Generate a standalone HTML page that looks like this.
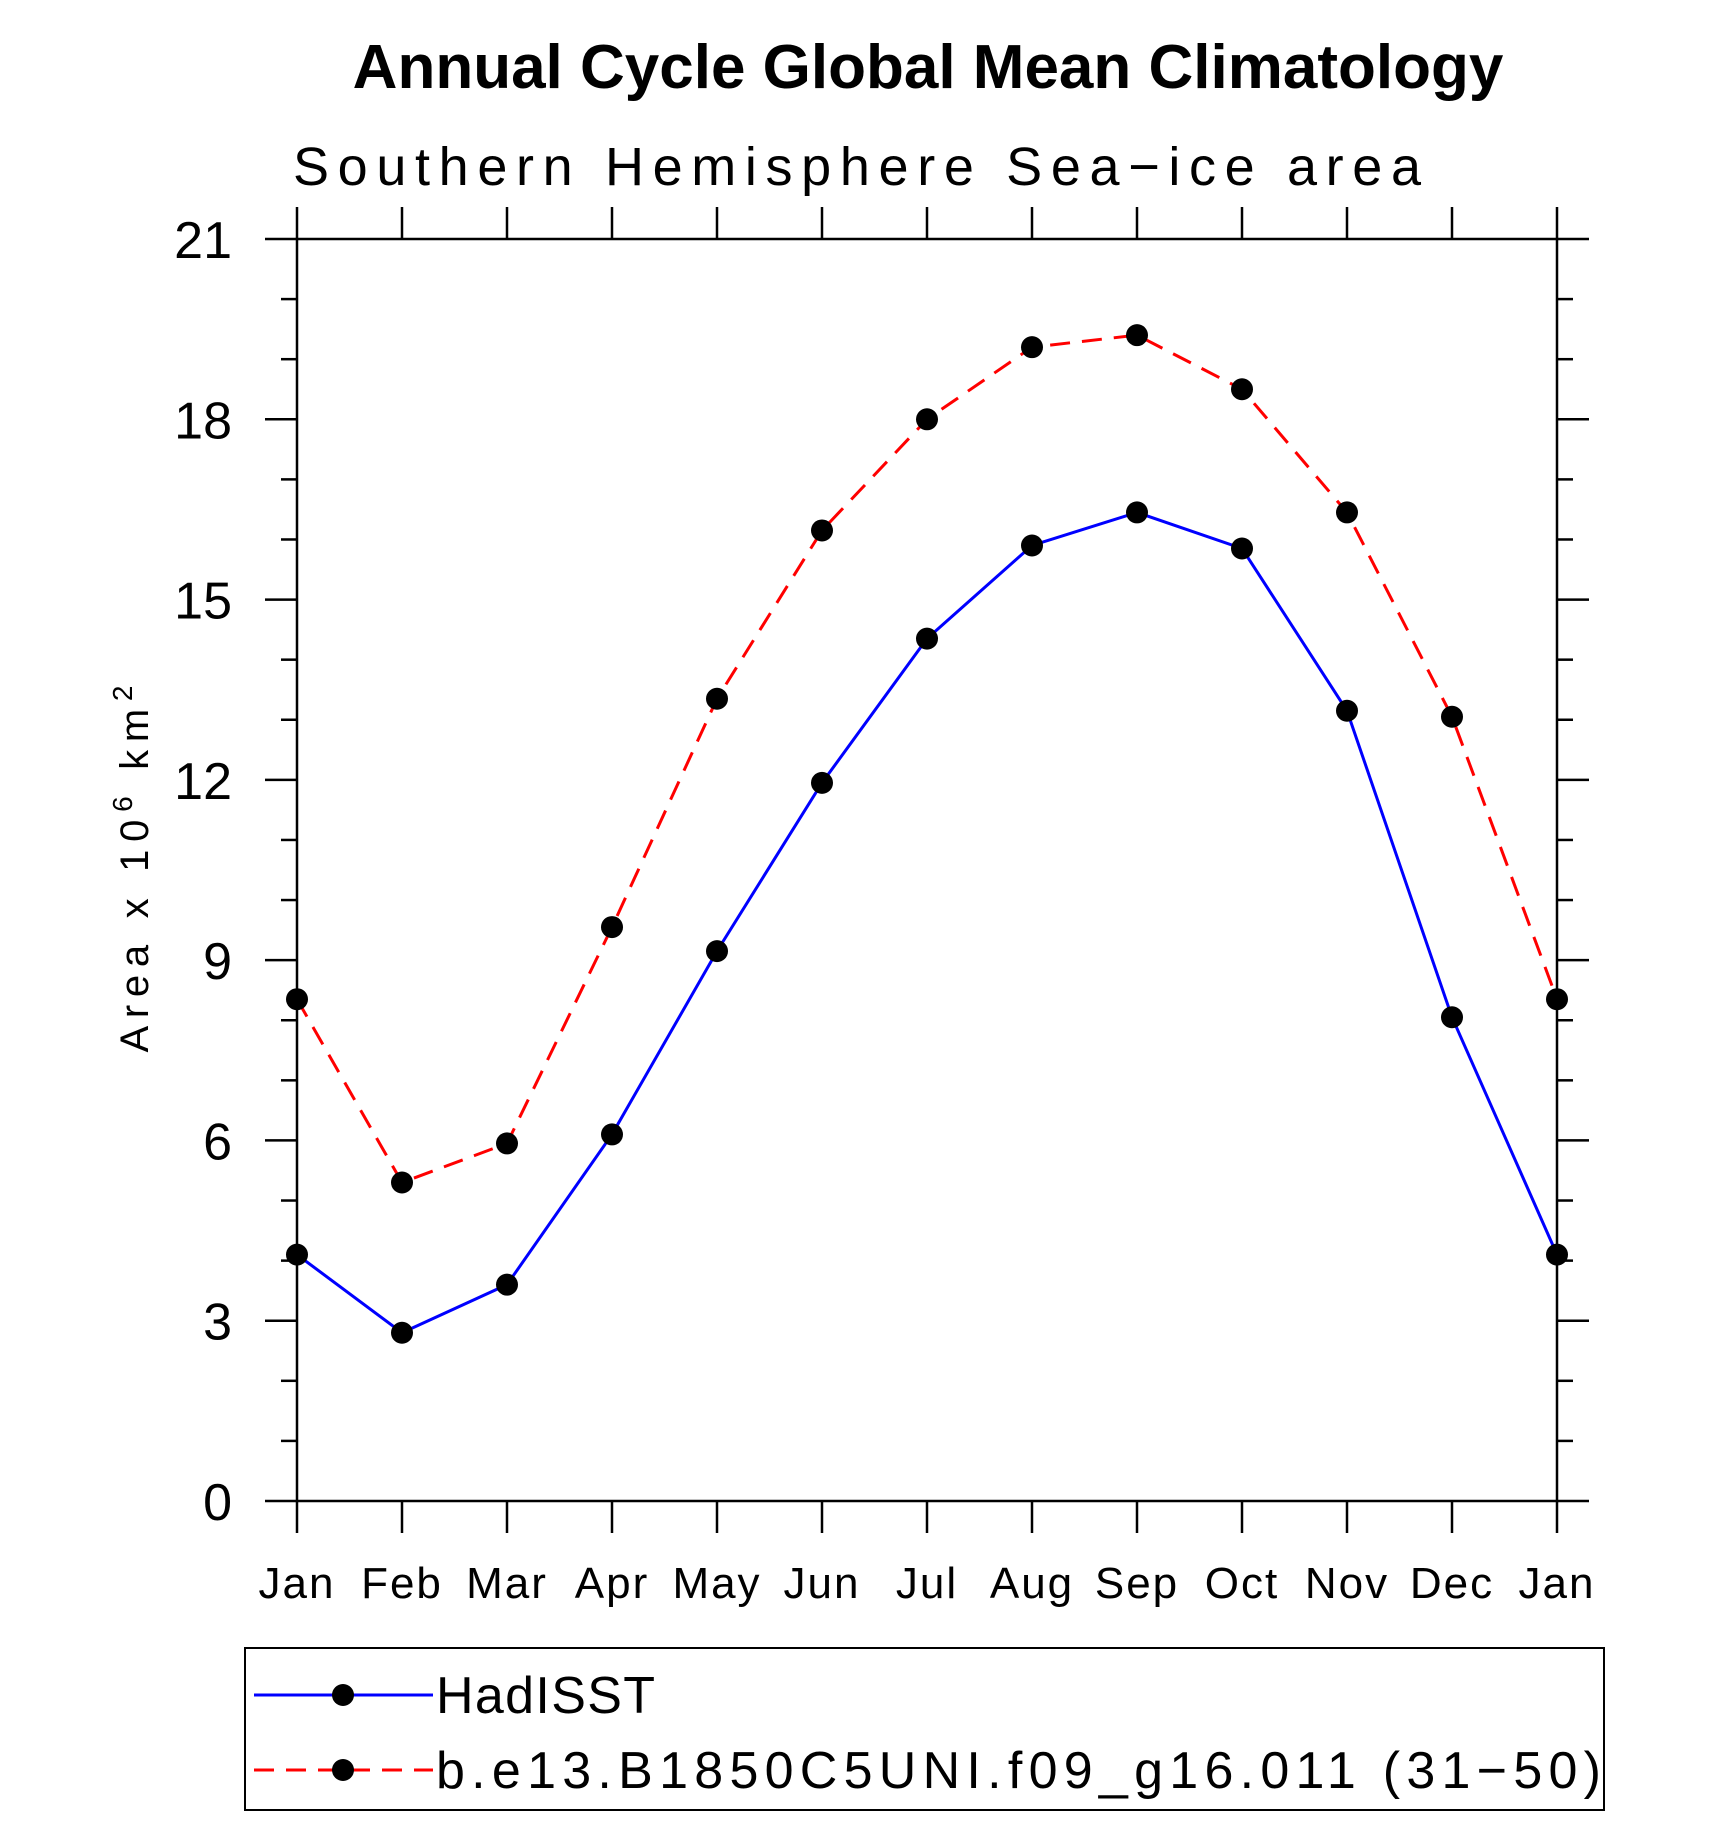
<!DOCTYPE html>
<html><head><meta charset="utf-8"><style>
body{margin:0;background:#fff}
svg text{font-family:"Liberation Sans",sans-serif}
</style></head><body>
<svg id="c" width="1710" height="1816" xmlns="http://www.w3.org/2000/svg">
<text x="928" y="88" font-size="62" font-weight="bold" text-anchor="middle">Annual Cycle Global Mean Climatology</text>
<text x="293" y="185" font-size="54" textLength="1128" lengthAdjust="spacing">Southern Hemisphere Sea−ice area</text>
<text transform="translate(148,869) rotate(-90)" font-size="40" text-anchor="middle" textLength="367" lengthAdjust="spacing">Area x 10<tspan dy="-16" font-size="28">6</tspan><tspan dy="16"> km</tspan><tspan dy="-16" font-size="28">2</tspan></text>
<g id="axes"></g><g id="series"></g>
<rect x="245" y="1648" width="1359" height="162" fill="none" stroke="#000" stroke-width="2"/>
<g>
<line x1="254" y1="1695" x2="433" y2="1695" stroke="#00f" stroke-width="3"/>
<circle cx="343" cy="1695" r="11"/>
<text x="436" y="1713" font-size="52" textLength="219" lengthAdjust="spacing">HadISST</text></g>
<g>
<line x1="254" y1="1770" x2="433" y2="1770" stroke="#f00" stroke-width="3" stroke-dasharray="20,12"/>
<circle cx="343" cy="1770" r="11"/>
<text x="436" y="1788" font-size="52" textLength="1165" lengthAdjust="spacing">b.e13.B1850C5UNI.f09_g16.011 (31−50)</text></g>
</svg>
<script>
const months=["Jan","Feb","Mar","Apr","May","Jun","Jul","Aug","Sep","Oct","Nov","Dec","Jan"];
const hadisst=[4.1,2.8,3.6,6.1,9.15,11.95,14.35,15.9,16.45,15.85,13.15,8.05,4.1];
const model=[8.35,5.3,5.95,9.55,13.35,16.15,18,19.2,19.4,18.5,16.45,13.05,8.35];
const yTicks=[0,3,6,9,12,15,18,21];
const L=297,R=1557,T=239,B=1501,NS="http://www.w3.org/2000/svg";
const xs=i=>L+(R-L)*i/(months.length-1), ys=v=>B-(B-T)*v/21;
function mk(tag,a,p){const e=document.createElementNS(NS,tag);for(const k in a)e.setAttribute(k,a[k]);p.appendChild(e);return e;}
const ax=document.getElementById('axes'),se=document.getElementById('series');
const fr=mk('rect',{x:L,y:T,width:R-L,height:B-T,fill:'none',stroke:'#000','stroke-width':2.5},ax);


for(let v=0;v<=21;v++){const maj=v%3==0,len=maj?32:16,y=ys(v);
mk('line',{x1:L-len,y1:y,x2:L,y2:y,stroke:'#000','stroke-width':2.5},ax);
mk('line',{x1:R,y1:y,x2:R+len,y2:y,stroke:'#000','stroke-width':2.5},ax);}
yTicks.forEach(v=>{const t=mk('text',{x:232,y:ys(v)+19,'font-size':52,'text-anchor':'end'},ax);t.textContent=v;

});
months.forEach((m,i)=>{const x=xs(i);
mk('line',{x1:x,y1:T-32,x2:x,y2:T,stroke:'#000','stroke-width':2.5},ax);
mk('line',{x1:x,y1:B,x2:x,y2:B+32,stroke:'#000','stroke-width':2.5},ax);
const t=mk('text',{x:x,y:1598,'font-size':44,'text-anchor':'middle','letter-spacing':2},ax);t.textContent=m;

});
function draw(d,col,dash,name){
const p=mk('polyline',{points:d.map((v,i)=>xs(i)+','+ys(v)).join(' '),fill:'none',stroke:col,'stroke-width':3,'stroke-dasharray':dash},se);


d.forEach((v,i)=>{const c=mk('circle',{cx:xs(i),cy:ys(v),r:11},se);

});}
draw(model,'#f00','20,12','model');
draw(hadisst,'#00f','none','hadisst');
</script>
</body></html>
